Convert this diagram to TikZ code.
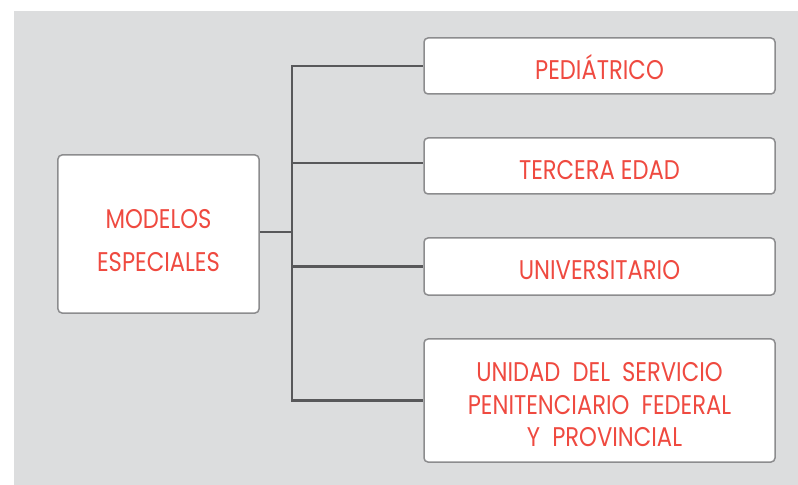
\documentclass[tikz,border=0pt]{standalone}
\usepackage{fontspec}
\setmainfont{Poppins}[FakeStretch=0.84]
\usepackage{tikz}
\usetikzlibrary{positioning}
\definecolor{panelgray}{HTML}{DCDDDE}
\definecolor{boxline}{HTML}{8C8C8E}
\definecolor{linkgray}{HTML}{58585A}
\definecolor{labelred}{HTML}{EF4A40}
\tikzstyle{rootbox} = [rectangle, rounded corners=4bp, minimum width=201bp, minimum height=158bp, align=center, text height=74.9bp, text depth=0bp, draw=boxline, line width=1.5bp, fill=white, text=labelred, font=\fontsize{27bp}{43bp}\selectfont]
\tikzstyle{modelbox} = [rectangle, rounded corners=4bp, minimum width=351bp, minimum height=56bp, align=center, text height=27bp, text depth=0bp, draw=boxline, line width=1.5bp, fill=white, text=labelred, font=\fontsize{27bp}{32.5bp}\selectfont]
\tikzstyle{link} = [draw=linkgray, line width=2.5bp]

\begin{document}
\begin{tikzpicture}[x=1bp, y=-1bp]

\useasboundingbox (0,0) rectangle (798,485);
\fill[panelgray] (14,11) rectangle (798,485);

\node [rootbox] (root) at (158.5,234) {MODELOS\\ESPECIALES};
\node [modelbox] (pedia) at (599.5,66) {PEDIÁTRICO};
\node [modelbox] (tercera) at (599.5,166) {TERCERA EDAD};
\node [modelbox, minimum height=57bp] (univ) at (599.5,266.5) {UNIVERSITARIO};
\node [modelbox, minimum height=123bp, text height=92.9bp] (unidad) at (599.5,400.5) {UNIDAD\ \ DEL\ \ SERVICIO\\PENITENCIARIO\ \ FEDERAL\\\hspace*{10bp}Y\ \ PROVINCIAL};

% trunk
\coordinate (trunk) at (292,232);
\draw [link] (root.east |- trunk) -- (trunk);
\draw [link, line cap=rect] (trunk |- pedia.west) -- (trunk |- unidad.west);
\draw [link] (trunk |- pedia.west) -- (pedia.west);
\draw [link] ([yshift=3bp]trunk |- tercera.west) -- ([yshift=3bp]tercera.west);
\draw [link] (trunk |- univ.west) -- (univ.west);
\draw [link] (trunk |- unidad.west) -- (unidad.west);

\end{tikzpicture}
\end{document}
